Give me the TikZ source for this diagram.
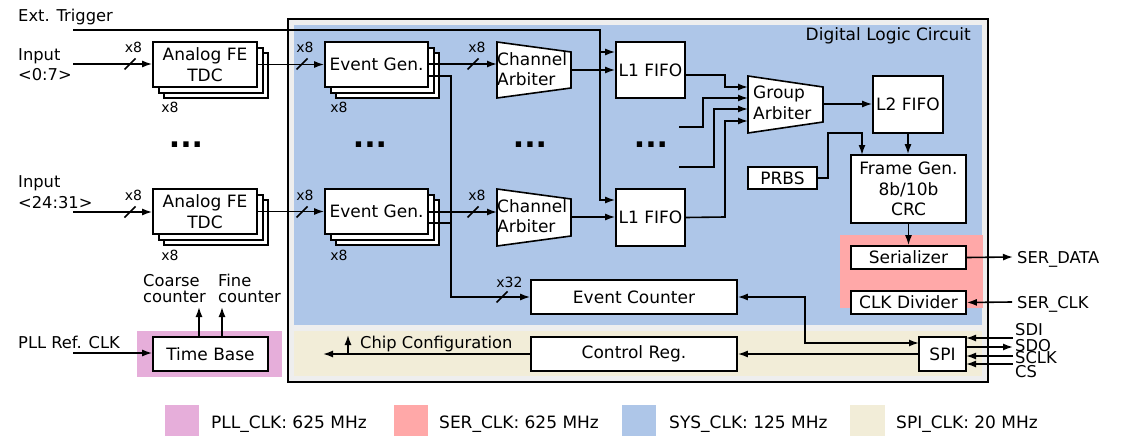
\documentclass[tikz,border=0pt]{standalone}
\usepackage{fontspec}
\setmainfont{DejaVu Sans}
\usetikzlibrary{arrows.meta}
\definecolor{outergrey}{HTML}{EEEEEE}
\definecolor{sysblue}{HTML}{AEC6E8}
\definecolor{spibeige}{HTML}{F2EDD8}
\definecolor{serpink}{HTML}{FFA8A8}
\definecolor{pllpurple}{HTML}{E6AEDA}
\newcommand{\bxfont}{\fontsize{17}{20.5}\selectfont}
\newcommand{\lbfont}{\fontsize{16.3}{16}\selectfont}
\newcommand{\smfont}{\fontsize{14}{14}\selectfont}
\tikzset{
  wire/.style={line width=1.6pt},
  arr/.style={line width=1.6pt, -{Latex[length=10pt,width=7pt]}},
  darr/.style={line width=1.6pt, {Latex[length=10pt,width=7pt]}-{Latex[length=10pt,width=7pt]}},
  box/.style={draw, fill=white, line width=1.6pt, inner sep=0pt, align=center, font=\bxfont},
  shadowbox/.style={draw, fill=white, line width=1.6pt},
  lbl/.style={inner sep=0pt, anchor=base west, font=\lbfont, align=left},
  mult/.style={inner sep=0pt, anchor=base, font=\smfont},
  slash/.style={line width=1.6pt},
  dotsty/.style={inner sep=0pt, font=\fontsize{30}{30}\selectfont\bfseries},
  legtext/.style={inner sep=0pt, anchor=base west, font=\fontsize{17}{17}\selectfont}
}
\begin{document}
\begin{tikzpicture}[x=1pt,y=-1pt]
\useasboundingbox (0,0) rectangle (1122,436);

% ---------- background regions ----------
\draw[line width=1.6pt, fill=outergrey] (288,19) rectangle (988,382);
\fill[sysblue] (294,25) rectangle (982,325);
\fill[spibeige] (294,331) rectangle (982,376);
\fill[serpink] (840,235) rectangle (983,308);
\fill[pllpurple] (137,331) rectangle (282,377);
\node[inner sep=0pt, anchor=base east, font=\fontsize{17}{17}\selectfont] (dlc) at (971,41) {Digital Logic Circuit};

% ---------- stacked boxes ----------
\draw[shadowbox] (164,53) rectangle (268,98);
\draw[shadowbox] (159,48) rectangle (263,93);
\node[box, minimum width=104pt, minimum height=45pt] (afe1) at (205,64.5) {Analog FE\\TDC};
\draw[shadowbox] (164,200) rectangle (268,245);
\draw[shadowbox] (159,195) rectangle (263,240);
\node[box, minimum width=104pt, minimum height=45pt] (afe2) at (205,211.5) {Analog FE\\TDC};

\draw[shadowbox] (336,53) rectangle (439,98);
\draw[shadowbox] (331,48) rectangle (434,93);
\node[box, minimum width=103pt, minimum height=45pt] (eg1) at (376.5,64.5) {Event Gen.};
\draw[shadowbox] (336,200) rectangle (439,245);
\draw[shadowbox] (331,195) rectangle (434,240);
\node[box, minimum width=103pt, minimum height=45pt] (eg2) at (376.5,211.5) {Event Gen.};

% ---------- channel arbiters (trapezoids) ----------
\draw[shadowbox] (497,42) -- (571,52) -- (571,88) -- (497,98) -- cycle;
\node[inner sep=0pt, anchor=west, align=left, font=\bxfont] (ca1) at (497,69) {Channel\\Arbiter};
\draw[shadowbox] (497,189) -- (571,199) -- (571,236) -- (497,246) -- cycle;
\node[inner sep=0pt, anchor=west, align=left, font=\bxfont] (ca2) at (497,216) {Channel\\Arbiter};
\coordinate (ca1in) at (497,64);
\coordinate (ca1out) at (571,70);
\coordinate (ca2in) at (497,212);
\coordinate (ca2out) at (571,217);

% ---------- FIFOs and other blocks ----------
\node[box, minimum width=69pt, minimum height=56pt] (l1a) at (650.5,70) {L1 FIFO};
\node[box, minimum width=69pt, minimum height=57pt] (l1b) at (650.5,217.5) {L1 FIFO};

\draw[shadowbox] (748,76) -- (823,87) -- (823,122) -- (748,133) -- cycle;
\node[inner sep=0pt, anchor=west, align=left, font=\bxfont] (ga) at (753,103) {Group\\Arbiter};
\coordinate (gaout) at (823,104);

\node[box, minimum width=70pt, minimum height=57pt] (l2) at (908,104.5) {L2 FIFO};
\node[box, minimum width=69pt, minimum height=22pt] (prbs) at (782.5,178) {PRBS};
\node[box, minimum width=115pt, minimum height=68pt] (fg) at (908.5,189) {Frame Gen.\\8b/10b\\CRC};
\node[box, minimum width=115pt, minimum height=23pt] (ser) at (908.5,257.5) {Serializer};
\node[box, minimum width=115pt, minimum height=23pt] (clkdiv) at (908.5,302.5) {CLK Divider};
\node[box, minimum width=206pt, minimum height=34pt] (ec) at (634,297) {Event Counter};
\node[box, minimum width=206pt, minimum height=34pt] (cr) at (634,354) {Control Reg.};
\node[box, minimum width=47pt, minimum height=34pt] (spi) at (942.5,354) {SPI};
\node[box, minimum width=115pt, minimum height=34pt] (tb) at (210.5,354) {Time Base};

% ---------- outside labels ----------
\node[lbl] (trigtxt) at (18,22) {Ext. Trigger};
\node[lbl] (in1a) at (18,60) {Input};
\node[lbl] (in1b) at (18,81) {<0:7>};
\node[lbl] (in2a) at (18,187) {Input};
\node[lbl] (in2b) at (18,208) {<24:31>};
\node[lbl] (plltxt) at (18,348) {PLL Ref. CLK};
\node[lbl] (coarse) at (143,286) {Coarse};
\node[lbl] (coarse2) at (143,302) {counter};
\node[lbl] (fine) at (218,286) {Fine};
\node[lbl] (fine2) at (218,302) {counter};
\node[lbl] (serdata) at (1017,263) {SER\_DATA};
\node[lbl] (serclk) at (1017,308) {SER\_CLK};
\node[lbl] (sdi) at (1015,335) {SDI};
\node[lbl] (sdo) at (1015,351) {SDO};
\node[lbl] (sclk) at (1015,363) {SCLK};
\node[lbl] (cs) at (1015,377) {CS};
\node[lbl] (chipcfg) at (360,348) {Chip Configuration};

% multiplicity labels
\node[mult] (m1) at (133.5,53) {x8};
\node[mult] (m2) at (170,113) {x8};
\node[mult] (m3) at (133.5,200) {x8};
\node[mult] (m4) at (170,260) {x8};
\node[mult] (m5) at (305,53) {x8};
\node[mult] (m6) at (339,113) {x8};
\node[mult] (m7) at (305,200) {x8};
\node[mult] (m8) at (339,260) {x8};
\node[mult] (m9) at (477,53) {x8};
\node[mult] (m10) at (477,200) {x8};
\node[mult] (m11) at (509.5,287) {x32};

% dots
\node[dotsty] (d1) at (186,145) {...};
\node[dotsty] (d2) at (370,145) {...};
\node[dotsty] (d3) at (530,145) {...};
\node[dotsty] (d4) at (651,145) {...};

% ---------- coordinates for free ends ----------
\coordinate (trig) at (73,30);
\coordinate (trigc) at (600,30);
\coordinate (tj1) at (600,52);
\coordinate (tj2) at (600,200);
\coordinate (i1) at (73,64);
\coordinate (i2) at (73,212);
\coordinate (pll) at (73,353);
\coordinate (ga1) at (748,87);
\coordinate (ga2) at (748,98);
\coordinate (ga3) at (748,109);
\coordinate (ga4) at (748,121);
\coordinate (ext2) at (679,127);
\coordinate (ext3) at (679,167);
\coordinate (serdataend) at (1013,257);
\coordinate (serclkend) at (1012,302);
\coordinate (cfgend) at (323,354);
\coordinate (cfgup) at (348,335);
\coordinate (tbc) at (199,307);
\coordinate (tbf) at (222,307);

% ---------- connectors ----------
% trigger
\draw[wire] (trig) -- (trigc) -- (tj1);
\draw[arr] (tj1) -- (tj1 -| l1a.west);
\draw[arr] (tj1) -- (tj2) -- (tj2 -| l1b.west);

% inputs
\draw[arr] (i1) -- (i1 -| afe1.west);
\draw[arr] (i2) -- (i2 -| afe2.west);
\draw[arr] (afe1.east) -- (eg1.west);
\draw[arr] (afe2.east) -- (eg2.west);
\draw[arr] (eg1.east |- ca1in) -- (ca1in);
\draw[arr] (eg2.east |- ca2in) -- (ca2in);
\draw[arr] (ca1out) -- (ca1out -| l1a.west);
\draw[arr] (ca2out) -- (ca2out -| l1b.west);

% slashes
\foreach \sx/\sy in {130/64, 130/212, 302/64, 302/212, 473/64, 473/212, 502/297}
  \draw[slash] (\sx-5.5,\sy+5.5) -- (\sx+5.5,\sy-5.5);

% event counter bus
\draw[wire] (428,223) -- (451,223);
\draw[arr] (428,76) -- (451,76) -- (451,297) -- (ec.west);

% group arbiter inputs
\draw[arr] (685,75) -- (725,75) -- (725,87) -- (ga1);
\draw[arr] (ext2) -- (703,127) -- (703,98) -- (ga2);
\draw[arr] (ext3) -- (714,167) -- (714,109) -- (ga3);
\draw[arr] (l1b.east) -- (725,217) -- (725,121) -- (ga4);
\draw[arr] (gaout) -- (gaout -| l2.west);
\draw[arr] (l2.south) -- (l2.south |- fg.north);
\draw[arr] (prbs.east) -- (828,178) -- (828,133) -- (862,133) -- (862,155);
\draw[arr] (fg.south) -- (ser.north);
\draw[arr] (ser.east) -- (serdataend);
\draw[arr] (serclkend) -- (clkdiv.east);

% SPI
\draw[darr] (919,343) -- (805,343) -- (805,297) -- (ec.east);
\draw[arr] (919,354) -- (cr.east |- 919,354);
\draw[arr] (cr.west) -- (cfgend);
\draw[arr] (348,354) -- (cfgup);
\draw[arr] (1013,338) -- (966,338);
\draw[arr] (966,347) -- (1013,347);
\draw[arr] (1013,356) -- (966,356);
\draw[arr] (1013,364) -- (966,364);

% time base
\draw[arr] (pll) -- (pll -| tb.west);
\draw[arr] (tbc |- tb.north) -- (tbc);
\draw[arr] (tbf |- tb.north) -- (tbf);

% ---------- legend ----------
\fill[pllpurple] (165,405) rectangle (199,436);
\node[legtext] (lg1) at (211,428) {PLL\_CLK: 625 MHz};
\fill[serpink] (394,405) rectangle (428,436);
\node[legtext] (lg2) at (439,428) {SER\_CLK: 625 MHz};
\fill[sysblue] (622,405) rectangle (656,436);
\node[legtext] (lg3) at (669,428) {SYS\_CLK: 125 MHz};
\fill[spibeige] (850,405) rectangle (885,436);
\node[legtext] (lg4) at (896,428) {SPI\_CLK: 20 MHz};
\end{tikzpicture}
\end{document}
